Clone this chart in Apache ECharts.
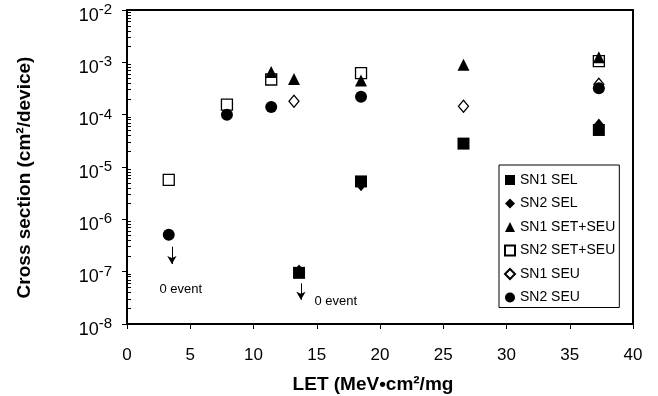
<!DOCTYPE html>
<html>
<head>
<meta charset="utf-8">
<script src="https://cdn.jsdelivr.net/npm/echarts@6/dist/echarts.min.js"></script>
<style>html,body{margin:0;padding:0;background:#fff}#c{width:658px;height:396px}</style>
</head>
<body>
<div id="c"></div>
<script>
// ---- data ----
const seriesNames = ['SN1 SEL', 'SN2 SEL', 'SN1 SET+SEU', 'SN2 SET+SEU', 'SN1 SEU', 'SN2 SEU'];
const sn1Sel = [[13.6, 9.5e-8], [18.5, 5.3e-6], [26.6, 2.8e-5], [37.3, 5.1e-5]];
const sn2Sel = [[13.6, 1.05e-7], [18.5, 4.5e-6], [37.3, 6.5e-5]];
const sn1SetSeu = [[11.4, 6.5e-4], [13.2, 4.8e-4], [18.5, 4.5e-4], [26.6, 9.0e-4], [37.3, 1.25e-3]];
const sn2SetSeu = [[3.3, 5.7e-6], [7.9, 1.55e-4], [11.4, 4.7e-4], [18.5, 6.2e-4], [37.3, 1.05e-3]];
const sn1Seu = [[13.2, 1.8e-4], [26.6, 1.45e-4], [37.3, 3.8e-4]];
const sn2Seu = [[3.3, 5.1e-7], [7.9, 1.0e-4], [11.4, 1.4e-4], [18.5, 2.2e-4], [37.3, 3.2e-4]];
// "0 event" annotations (arrows + labels)
const arrow1 = [[3.55, 3.0e-7], [3.55, 1.4e-7]];
const arrow2 = [[13.75, 6.0e-8], [13.75, 2.9e-8]];
const noteText = ['0 event', '0 event'];
const notePos = [[4.25, 4.6e-8], [16.5, 2.7e-8]];
// axis ticks
const xTicks = [0, 5, 10, 15, 20, 25, 30, 35, 40];
const yMajor = [1e-8, 1e-7, 1e-6, 1e-5, 1e-4, 1e-3, 1e-2];
const yMinorMult = [2, 3, 4, 5, 6, 7, 8, 9];
const xTitle = 'LET (MeV•cm²/mg';
const yTitle = 'Cross section (cm²/device)';

const FONT = 'Liberation Sans, Arial, sans-serif';
const yMinorExp = [];
yMajor.slice(0, -1).forEach(d => yMinorMult.forEach(m => yMinorExp.push(Math.log10(d * m))));

const chart = echarts.init(document.getElementById('c'), null, {renderer: 'canvas'});

function scatter(name, data, symbol, size, fill, z) {
  return {
    name, type: 'scatter', data, symbol, symbolSize: size, z,
    yAxisIndex: 0,
    itemStyle: {color: fill, borderColor: '#000', borderWidth: fill === '#000' ? 0 : 1.3, opacity: 1},
    emphasis: {disabled: true}, animation: false
  };
}

const series = [
  scatter(seriesNames[0], sn1Sel, 'rect', 12, '#000', 2),
  scatter(seriesNames[1], sn2Sel, 'diamond', [10, 12], '#000', 3),
  scatter(seriesNames[2], sn1SetSeu, 'triangle', 12, '#000', 4),
  scatter(seriesNames[3], sn2SetSeu, 'rect', 11, 'rgba(255,255,255,0)', 5),
  scatter(seriesNames[4], sn1Seu, 'diamond', [10, 12], '#fff', 6),
  scatter(seriesNames[5], sn2Seu, 'circle', 12, '#000', 7)
];
const arrowStyle = {
  silent: true, symbol: ['none', 'arrow'], symbolSize: [7, 8], animation: false,
  lineStyle: {color: '#000', width: 1, type: 'solid'}, label: {show: false}
};
series[5].markLine = Object.assign({}, arrowStyle, {
  data: [[{coord: arrow1[0]}, {coord: arrow1[1]}]]
});
series[0].markLine = Object.assign({}, arrowStyle, {
  data: [[{coord: arrow2[0]}, {coord: arrow2[1]}]]
});
series[5].markPoint = {
  silent: true, animation: false, symbol: 'circle', symbolSize: 0,
  label: {show: true, position: 'inside', color: '#000', fontSize: 13, fontFamily: FONT},
  data: notePos.map((p, i) => ({coord: p, value: noteText[i], label: {formatter: noteText[i]}}))
};

chart.setOption({
  backgroundColor: '#fff',
  animation: false,
  grid: {left: 127, right: 25, top: 10, bottom: 72, show: true, borderColor: '#000', borderWidth: 2, backgroundColor: 'transparent'},
  legend: {
    data: seriesNames, orient: 'vertical', left: 499, top: 165,
    itemWidth: 10, itemHeight: 10, itemGap: 9.5,
    padding: [8, 4, 3, 5],
    borderColor: '#000', borderWidth: 1, backgroundColor: '#fff',
    textStyle: {fontSize: 14, fontFamily: FONT, color: '#000', lineHeight: 14},
    selectedMode: false
  },
  xAxis: {
    type: 'value', min: 0, max: 40, interval: 5,
    axisLine: {show: true, lineStyle: {color: '#000', width: 2}},
    axisTick: {show: true, inside: false, length: 5, lineStyle: {color: '#000', width: 1}},
    axisLabel: {fontSize: 17, fontFamily: FONT, color: '#000', margin: 23, customValues: xTicks},
    splitLine: {show: false}
  },
  yAxis: [{
    type: 'log', logBase: 10, min: 1e-8, max: 1e-2,
    axisLine: {show: true, lineStyle: {color: '#000', width: 2}},
    axisTick: {show: true, inside: false, length: 5, customValues: yMajor, lineStyle: {color: '#000', width: 1}},
    axisLabel: {
      customValues: yMajor, margin: 15, color: '#000', fontSize: 18, fontFamily: FONT, padding: [7, 0, 0, 0],
      formatter: v => '{b|10}{s|' + Math.round(Math.log10(v)) + '}',
      rich: {
        b: {fontSize: 18, fontFamily: FONT, color: '#000', verticalAlign: 'bottom'},
        s: {fontSize: 15, fontFamily: FONT, color: '#000', verticalAlign: 'bottom', padding: [0, 0, 7.5, 0]}
      }
    },
    splitLine: {show: false}
  }, {
    type: 'value', min: -8, max: -2, position: 'left',
    axisLine: {show: false},
    axisTick: {show: true, inside: true, length: 4, customValues: yMinorExp, lineStyle: {color: '#000', width: 1}},
    axisLabel: {show: false},
    splitLine: {show: false}
  }],
  graphic: [
    {type: 'text', x: 373, y: 385, silent: true,
     style: {text: xTitle, font: 'bold 19px ' + FONT, fill: '#000', align: 'center', verticalAlign: 'middle'}},
    {type: 'text', x: 25, y: 177.5, rotation: Math.PI / 2, silent: true,
     style: {text: yTitle, font: 'bold 19px ' + FONT, fill: '#000', align: 'center', verticalAlign: 'middle'}}
  ],
  series
});
</script>
</body>
</html>
